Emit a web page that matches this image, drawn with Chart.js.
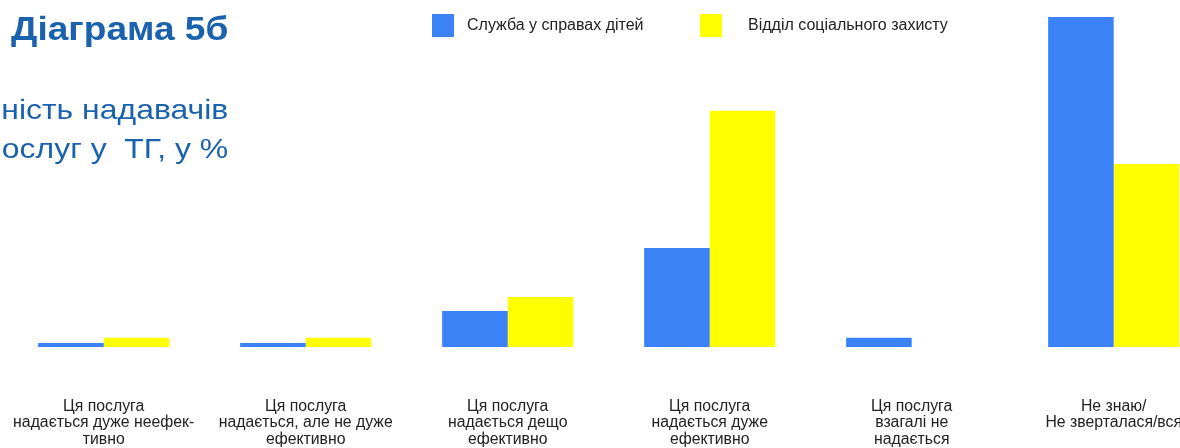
<!DOCTYPE html>
<html lang="uk">
<head>
  <meta charset="UTF-8" />
  <title>Діаграма 5б</title>
  <script src="https://cdn.jsdelivr.net/npm/chart.js"></script>
  <style>
    html, body {
      margin: 0;
      padding: 0;
      width: 1180px;
      height: 448px;
      overflow: hidden;
      background: #fff;
      font-family: 'Liberation Sans', Arial, sans-serif;
    }
    #wrap { position: absolute; left: 0; top: 0; }
    /* heading and subheading sit over the chart, top left (slightly widened type) */
    .title {
      position: absolute; left: 11px; top: 11px;
      font-size: 34px; font-weight: bold; color: #1a62ad; line-height: 1;
      white-space: nowrap;
      transform: scaleX(1.09); transform-origin: left top;
    }
    .subtitle {
      position: absolute; right: 952px; top: 90px;
      font-size: 28px; color: #1a62ad; line-height: 39px;
      text-align: right; white-space: nowrap;
      transform: scaleX(1.14); transform-origin: right top;
    }
    .legend { position: absolute; top: 14px; font-size: 16px; color: #222; }
    .legend .box { position: absolute; top: 0; width: 22px; height: 23px; }
    .legend .txt { position: absolute; top: 1px; white-space: nowrap; line-height: 20px; }
  </style>
</head>
<body>
  <div id="wrap">
    <canvas id="chart" width="1216" height="448"></canvas>
  </div>
  <div class="title">Діаграма 5б</div>
  <div class="subtitle">Ефективність надавачів<br>послуг у&nbsp; ТГ, у %</div>
  <div id="legend"></div>

  <script>
    const categories = [
      ['Ця послуга', 'надається дуже неефек-', 'тивно'],
      ['Ця послуга', 'надається, але не дуже', 'ефективно'],
      ['Ця послуга', 'надається дещо', 'ефективно'],
      ['Ця послуга', 'надається дуже', 'ефективно'],
      ['Ця послуга', 'взагалі не', 'надається'],
      ['Не знаю/', 'Не зверталася/вся']
    ];
    const seriesNames = ['Служба у справах дітей', 'Відділ соціального захисту'];
    const childrenService = [0.8, 0.8, 7.4, 20.4, 1.9, 68.0];
    const socialProtection = [1.9, 1.9, 10.3, 48.7, 0, 37.7];
    const colors = ['#3B82F6', '#FFFF00'];

    // legend positions for the two entries (box left, text left)
    const legendSpots = [[432, 467], [700, 748]];
    const legend = document.getElementById('legend');
    seriesNames.forEach((name, i) => {
      const item = document.createElement('div');
      item.className = 'legend';
      item.style.left = legendSpots[i][0] + 'px';
      item.innerHTML = `<div class="box" style="left:0;background:${colors[i]}"></div>` +
        `<div class="txt" style="left:${legendSpots[i][1] - legendSpots[i][0]}px">${name}</div>`;
      legend.appendChild(item);
    });

    new Chart(document.getElementById('chart'), {
      type: 'bar',
      data: {
        labels: categories,
        datasets: [
          { label: seriesNames[0], data: childrenService, backgroundColor: colors[0] },
          { label: seriesNames[1], data: socialProtection, backgroundColor: colors[1] }
        ]
      },
      options: {
        responsive: false,
        animation: false,
        devicePixelRatio: 1,
        layout: { padding: { left: 2.7, right: 1.3, top: 17, bottom: 0 } },
        datasets: { bar: { categoryPercentage: 0.649, barPercentage: 1 } },
        scales: {
          x: {
            grid: { display: false, drawTicks: false },
            border: { display: false },
            ticks: {
              autoSkip: false,
              maxRotation: 0,
              padding: 51,
              color: '#222',
              font: { family: "'Liberation Sans', Arial, sans-serif", size: 15.8, lineHeight: 1.05 }
            },
            // fixed axis band under the bars; labels may spill to the sides
            afterFit: (scale) => {
              scale.height = 101;
              scale.paddingLeft = 0;
              scale.paddingRight = 0;
            }
          },
          y: {
            display: false,
            min: 0,
            max: 68
          }
        },
        plugins: {
          legend: { display: false },
          tooltip: { enabled: false }
        }
      }
    });
  </script>
</body>
</html>
